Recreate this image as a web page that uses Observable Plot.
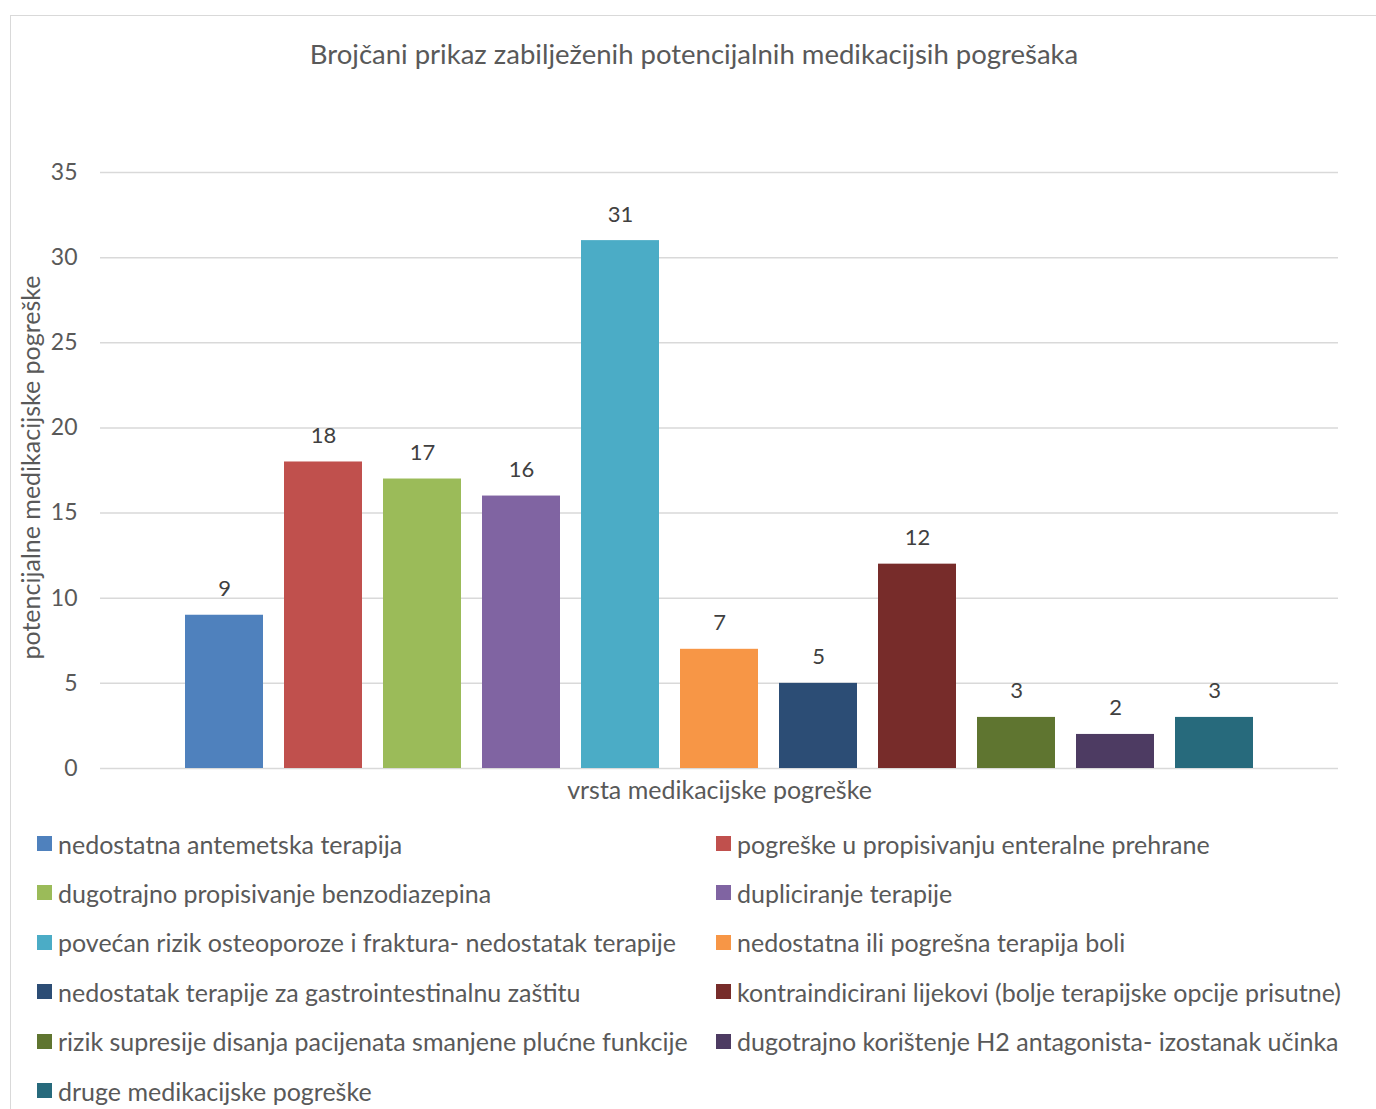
<!DOCTYPE html>
<html>
<head>
<meta charset="utf-8">
<script src="https://cdn.jsdelivr.net/npm/d3@7"></script>
<script src="https://cdn.jsdelivr.net/npm/@observablehq/plot@0.6"></script>
<style>
  html, body { margin: 0; padding: 0; background: #fff; overflow: hidden; }
  #wrap { position: relative; width: 1376px; height: 1109px; overflow: hidden; font-family: Lato, "Open Sans", sans-serif; color: #595959; }
  #frame { position: absolute; left: 10px; top: 15px; width: 1500px; height: 1300px; border: 1.5px solid #d9d9d9; box-sizing: border-box; }
  #title { position: absolute; left: 0; width: 1388px; top: 36px; text-align: center; font-size: 27.5px; line-height: 36px; }
  #chart { position: absolute; left: 0; top: 0; }
  .leg { position: absolute; font-size: 25px; line-height: 30px; white-space: nowrap; display: flex; align-items: center; }
  .leg i { display: inline-block; width: 15px; height: 15px; margin-right: 6px; }
</style>
</head>
<body>
<div id="wrap">
  <div id="frame"></div>
  <div id="title"></div>
  <div id="chart"></div>
  <div id="legend"></div>
</div>
<script>
const title = "Brojčani prikaz zabilježenih potencijalnih medikacijsih pogrešaka";
const yLabel = "potencijalne medikacijske pogreške";
const xLabel = "vrsta medikacijske pogreške";
const categories = [
  "nedostatna antemetska terapija",
  "pogreške u propisivanju enteralne prehrane",
  "dugotrajno propisivanje benzodiazepina",
  "dupliciranje terapije",
  "povećan rizik osteoporoze i fraktura- nedostatak terapije",
  "nedostatna ili pogrešna terapija boli",
  "nedostatak terapije za gastrointestinalnu zaštitu",
  "kontraindicirani lijekovi (bolje terapijske opcije prisutne)",
  "rizik supresije disanja pacijenata smanjene plućne funkcije",
  "dugotrajno korištenje H2 antagonista- izostanak učinka",
  "druge medikacijske pogreške"
];
const values = [9, 18, 17, 16, 31, 7, 5, 12, 3, 2, 3];
const colors = ["#4F81BD", "#C0504D", "#9BBB59", "#8064A2", "#4BACC6", "#F79646", "#2C4D75", "#772C2A", "#5F7530", "#4D3B62", "#276A7C"];
const yTicks = [0, 5, 10, 15, 20, 25, 30, 35];

const data = categories.map((c, i) => ({category: c, value: values[i]}));

document.getElementById("title").textContent = title;

const chart = Plot.plot({
  width: 1376,
  height: 820,
  marginTop: 172,
  marginBottom: 52,
  marginLeft: 100,
  marginRight: 38,
  style: {fontFamily: "Lato, 'Open Sans', sans-serif", background: "transparent", overflow: "visible"},
  x: {type: "band", domain: categories, range: [164.2, 1274], paddingInner: 0.21, paddingOuter: 0.21, axis: null},
  y: {domain: [0, 35], axis: null},
  color: {domain: categories, range: colors},
  marks: [
    Plot.ruleY(yTicks, {stroke: "#d9d9d9", strokeWidth: 1.5}),
    Plot.barY(data, {x: "category", y: "value", fill: "category"}),
    Plot.text(data, {x: "category", y: "value", text: d => String(d.value), dy: -26, fill: "#404040", fontSize: 22}),
    Plot.text(yTicks, {y: d => d, text: d => String(d), frameAnchor: "left", textAnchor: "end", dx: -23, fill: "#595959", fontSize: 23}),
    Plot.text([xLabel], {text: d => d, frameAnchor: "bottom", lineAnchor: "middle", textAnchor: "middle", dy: 22, fill: "#595959", fontSize: 25}),
    Plot.text([yLabel], {text: d => d, frameAnchor: "left", textAnchor: "middle", lineAnchor: "middle", dx: -69, dy: -3, rotate: -90, fill: "#595959", fontSize: 25})
  ]
});
document.getElementById("chart").appendChild(chart);

const legend = document.getElementById("legend");
categories.forEach((c, i) => {
  const col = i % 2, row = Math.floor(i / 2);
  const el = document.createElement("div");
  el.className = "leg";
  el.style.left = (col === 0 ? 37 : 716) + "px";
  el.style.top = (843.5 + row * 49.4 - 15) + "px";
  const sw = document.createElement("i");
  sw.style.background = colors[i];
  el.appendChild(sw);
  el.appendChild(document.createTextNode(c));
  legend.appendChild(el);
});
</script>
</body>
</html>
